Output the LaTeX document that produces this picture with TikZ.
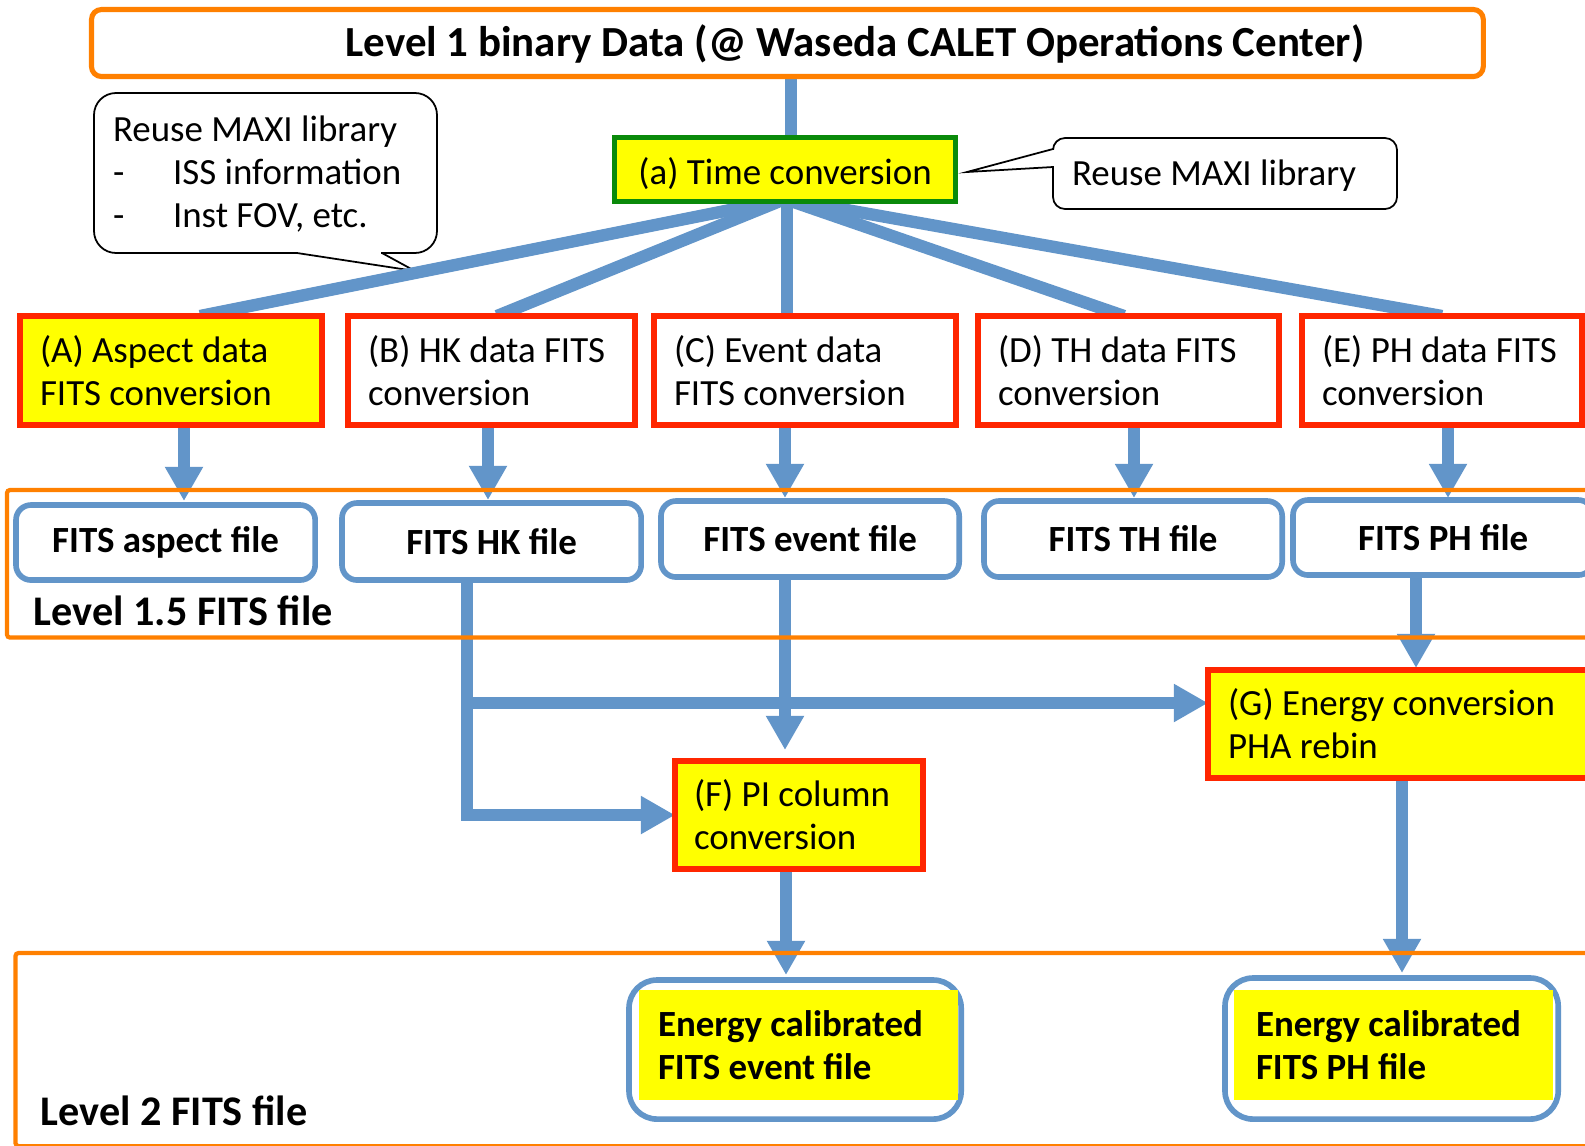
\documentclass[tikz,border=0pt]{standalone}
\usepackage{fontspec}
\setmainfont{Carlito}
\usetikzlibrary{arrows.meta,calc}
\definecolor{myblue}{RGB}{98,149,201}
\definecolor{myorange}{RGB}{255,128,0}
\definecolor{myred}{RGB}{255,38,0}
\definecolor{mygreen}{RGB}{10,138,10}
\definecolor{myyellow}{RGB}{255,255,0}
\pgfdeclarelayer{bg}
\pgfdeclarelayer{fg}
\pgfsetlayers{bg,main,fg}
\tikzset{
  base/.style={outer sep=0pt, inner sep=0pt, font=\fontsize{10.5}{12.2}\selectfont},
  boldf/.style={font=\bfseries\fontsize{10.5}{12.2}\selectfont},
  proc/.style={base, draw=myred, line width=1.7pt, anchor=north west, align=flush left, inner xsep=0.2cm},
  filebox/.style={base, boldf, draw=myblue, line width=1.6pt, rounded corners=0.15cm, fill=white, anchor=north west},
  calbox/.style={base, draw=myblue, line width=1.6pt, rounded corners=0.28cm, fill=white, anchor=north west},
  calfill/.style={base, boldf, fill=myyellow, anchor=north west, align=flush left},
  conn/.style={draw=myblue, line width=3.5pt},
  arr/.style={conn, -{Triangle[length=9.7pt,width=10.2pt]}},
  frame/.style={base, draw=myorange, line width=1.2pt, rounded corners=0.03cm, anchor=north west},
  callout/.style={draw=black, line width=0.5pt},
  lvl/.style={base, font=\bfseries\fontsize{12}{14}\selectfont, anchor=base west}
}
\begin{document}
\begin{tikzpicture}[x=0.01cm, y=-0.01cm]
\clip (0,0) rectangle (1585,1145);

% title box
\node[base, draw=myorange, line width=1.45pt, rounded corners=0.1cm, minimum width=13.91cm, minimum height=0.67cm, anchor=north west] (top) at (91.5,9.5) {};
\node[base, font=\bfseries\fontsize{12.2}{14}\selectfont] (title) at (855,44) {Level 1 binary Data (@ Waseda CALET Operations Center)};

% time conversion
\node[base, draw=mygreen, line width=1.5pt, fill=myyellow, minimum width=3.41cm, minimum height=0.64cm, text height=8.8pt, text depth=0pt, anchor=north west] (tc) at (614.5,137.5) {(a) Time conversion};

% processing boxes
\node[proc, fill=myyellow, minimum height=1.09cm, text width=2.62cm] (A) at (20,316) {(A) Aspect data\\FITS conversion};
\node[proc, fill=white, minimum height=1.09cm, text width=2.47cm] (B) at (348,316) {\mbox{(B) HK data FITS}\\conversion};
\node[proc, fill=white, minimum height=1.09cm, text width=2.62cm] (C) at (654,316) {(C) Event data\\FITS conversion};
\node[proc, fill=white, minimum height=1.09cm, text width=2.61cm] (D) at (978,316) {\mbox{(D) TH data FITS}\\conversion};
\node[proc, fill=white, minimum height=1.09cm, text width=2.40cm] (E) at (1302,316) {\mbox{(E) PH data FITS}\\conversion};

% file boxes
\node[filebox, minimum width=2.99cm, minimum height=0.75cm] (asp) at (16,505) {FITS aspect file};
\node[filebox, minimum width=2.99cm, minimum height=0.77cm] (hk) at (342,503) {FITS HK file};
\node[filebox, minimum width=2.98cm, minimum height=0.76cm] (ev) at (661,501) {FITS event file};
\node[filebox, minimum width=2.98cm, minimum height=0.76cm] (th) at (984,501) {FITS TH file};
\node[filebox, minimum width=3.00cm, minimum height=0.75cm] (ph) at (1293,500) {FITS PH file};

% F and G
\node[proc, fill=myyellow, minimum height=1.08cm, inner xsep=0.19cm, text width=2.10cm] (F) at (675,761) {(F) PI column\\conversion};
\node[proc, fill=myyellow, minimum height=1.08cm, text width=3.50cm] (G) at (1208,670) {(G) Energy conversion\\PHA rebin};

% level 2 products
\node[calbox, minimum width=3.32cm, minimum height=1.39cm] (ef) at (629,980) {};
\node[calfill, minimum width=3.19cm, minimum height=1.10cm, inner xsep=0.19cm, text width=2.81cm] (eft) at (639,990) {Energy calibrated\\FITS event file};
\node[calbox, minimum width=3.33cm, minimum height=1.41cm] (ep) at (1225,978) {};
\node[calfill, minimum width=3.19cm, minimum height=1.10cm, inner xsep=0.22cm, text width=2.75cm] (ept) at (1234,990) {Energy calibrated\\FITS PH file};

% callout texts
\node[base, anchor=west, align=flush left] (note1) at (113,174) {Reuse MAXI library\\\makebox[0.6cm][l]{-}ISS information\\\makebox[0.6cm][l]{-}Inst FOV, etc.};
\node[base, anchor=base west] (note2) at (1072,185) {Reuse MAXI library};

% helper columns
\coordinate (fan) at (785,199);
\foreach \n/\xx in {c791/791, fa/200, fb/497, fc/787, fd/1124, fe/1442, xa/184, xb/488, xc/785, xd/1134, xe/1448, xhk/467, xg/1416, xf/786, xp/1402}
  \coordinate (\n) at (\xx,0);
\coordinate (j1) at (467,703);

\begin{pgfonlayer}{bg}
\fill[white] (0,0) rectangle (1585,1145);
% callouts
\draw[callout, rounded corners=0.22cm, fill=white] (94,93) rectangle (437,253);
\fill[white] (298,250) rectangle (381,256);
\draw[callout] (297,253) -- (415,271) -- (382,253);
\draw[callout, rounded corners=0.12cm, fill=white] (1053,138) rectangle (1397,209);
\fill[white] (1050,150) rectangle (1056,166);
\draw[callout] (1053,149) -- (967,172) -- (1053,167);

% connectors
\draw[conn] (top.south -| c791) -- (tc.north -| c791);
\draw[conn] (fan) -- (A.north -| fa);
\draw[conn] (fan) -- (B.north -| fb);
\draw[conn] (tc.south -| fc) -- (C.north -| fc);
\draw[conn] (fan) -- (D.north -| fd);
\draw[conn] (fan) -- (E.north -| fe);

\draw[arr] (A.south -| xa) -- ($(asp.north -| xa)+(0,-4)$);
\draw[arr] (B.south -| xb) -- ($(hk.north -| xb)+(0,-3)$);
\draw[arr] (C.south -| xc) -- ($(ev.north -| xc)+(0,-3)$);
\draw[arr] (D.south -| xd) -- ($(th.north -| xd)+(0,-3)$);
\draw[arr] (E.south -| xe) -- ($(ph.north -| xe)+(0,-2)$);

\draw[arr] (hk.south -| xhk) |- (F.west);
\draw[arr] (j1) -- (j1 -| G.west);
\draw[arr] (ev.south -| xc) -- ($(F.north -| xc)+(0,-11)$);
\draw[arr] (ph.south -| xg) -- ($(G.north -| xg)+(0,-2)$);
\draw[arr] (F.south -| xf) -- ($(ef.north -| xf)+(0,-5)$);
\draw[arr] (G.south -| xp) -- ($(ep.north -| xp)+(0,-5)$);
\end{pgfonlayer}

\begin{pgfonlayer}{fg}
\node[frame, minimum width=16cm, minimum height=1.475cm] (l15) at (7,490) {};
\node[lvl] (l15t) at (34,625) {Level 1.5 FITS file};
\node[frame, minimum width=16cm, minimum height=1.93cm] (l2) at (15.5,953) {};
\node[lvl] (l2t) at (41,1125) {Level 2 FITS file};
\end{pgfonlayer}
\end{tikzpicture}
\end{document}
